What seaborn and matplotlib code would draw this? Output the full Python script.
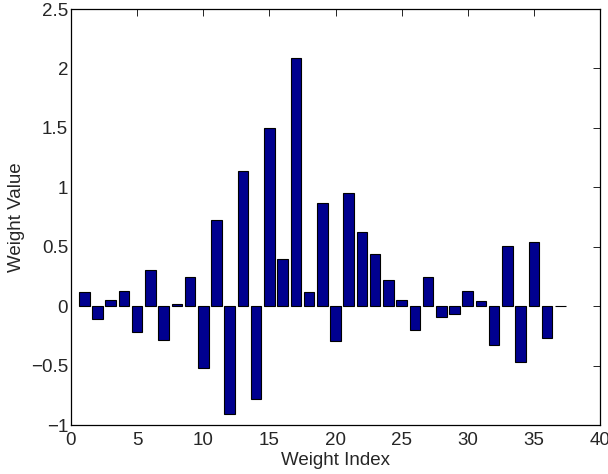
import numpy as np
import pandas as pd
import matplotlib
matplotlib.use("Agg")
import matplotlib.pyplot as plt
import seaborn as sns

# Weight values for each index
weight_index = list(range(1, 38))
weight_value = [
    0.115, -0.109, 0.053, 0.131, -0.218, 0.305, -0.285, 0.020, 0.246, -0.523,
    0.724, -0.906, 1.135, -0.780, 1.496, 0.394, 2.086, 0.123, 0.867, -0.294,
    0.954, 0.626, 0.442, 0.224, 0.053, -0.204, 0.246, -0.092, -0.067, 0.129,
    0.045, -0.324, 0.509, -0.470, 0.543, -0.268, 0.003,
]
x_ticks = [0, 5, 10, 15, 20, 25, 30, 35, 40]
y_ticks = [-1, -0.5, 0, 0.5, 1, 1.5, 2, 2.5]

df = pd.DataFrame({"Weight Index": weight_index, "Weight Value": weight_value})

sns.set_style("white")
plt.rcParams["font.family"] = ["Liberation Sans", "DejaVu Sans"]

fig = plt.figure(figsize=(6.08, 4.74), dpi=100)
ax = fig.add_axes([71 / 608, 1 - 425 / 474, 529 / 608, 416 / 474])

sns.barplot(
    data=df, x="Weight Index", y="Weight Value", native_scale=True,
    width=0.8, color="#00008f", saturation=1, edgecolor="black",
    linewidth=0.8, ax=ax,
)

ax.set_xlim(0, 40)
ax.set_ylim(-1, 2.5)
ax.set_xticks(x_ticks)
ax.set_yticks(y_ticks)
ax.set_xticklabels([str(t) for t in x_ticks])
ax.set_yticklabels([f"{t:g}".replace("-", "\u2212") for t in y_ticks])
ax.tick_params(direction="in", length=5, width=0.6, top=True, right=True,
               labelsize=13.5, color="black")
ax.tick_params(axis="x", pad=5)
ax.tick_params(axis="y", pad=2)
ax.set_xlabel("Weight Index", fontsize=13.5, labelpad=2.5)
ax.set_ylabel("Weight Value", fontsize=13.5, labelpad=4)
for s in ax.spines.values():
    s.set_color("black")
    s.set_linewidth(0.9)

fig.savefig("out.png", dpi=100)
